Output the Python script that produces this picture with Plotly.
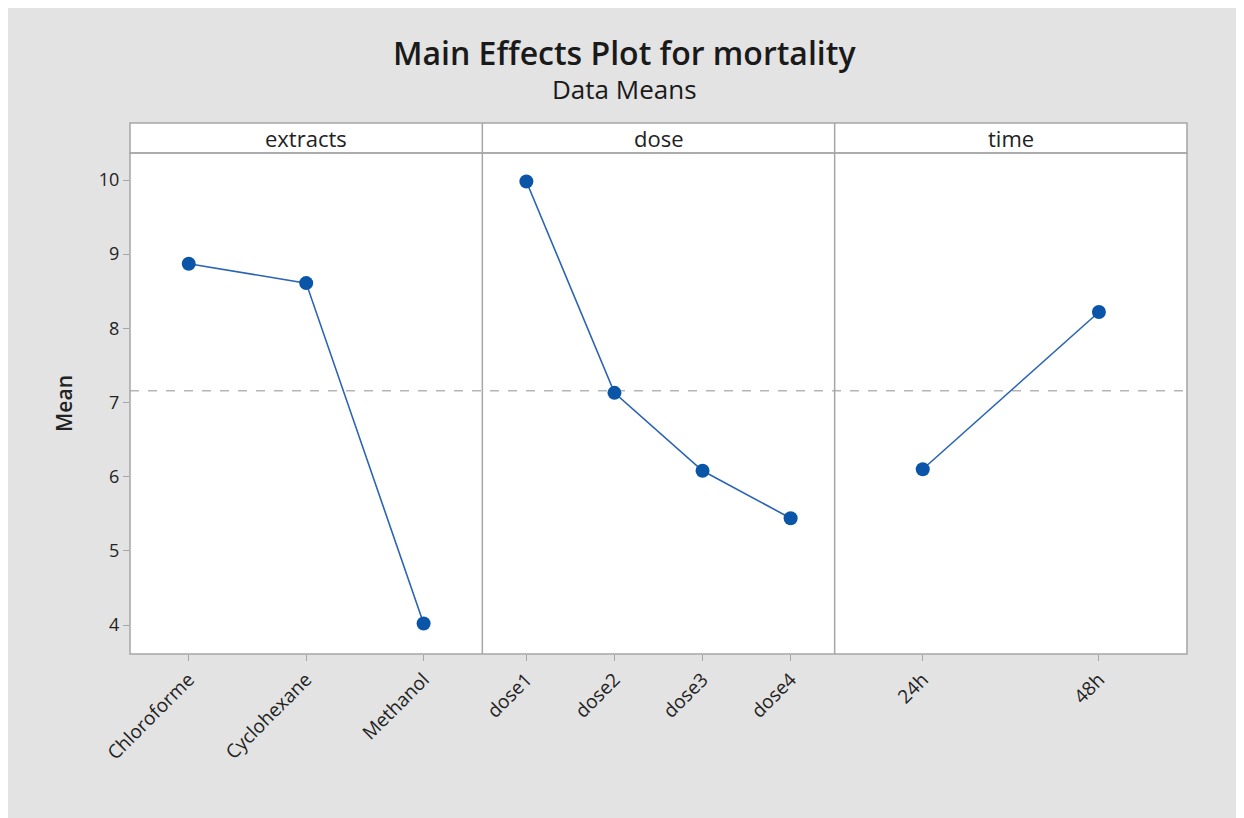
import plotly.graph_objects as go

# ---- data ----
extracts = ["Chloroforme", "Cyclohexane", "Methanol"]
extracts_mean = [8.87, 8.61, 4.02]
doses = ["dose1", "dose2", "dose3", "dose4"]
doses_mean = [9.98, 7.13, 6.08, 5.44]
times = ["24h", "48h"]
times_mean = [6.10, 8.22]
grand_mean = 7.16
panel_titles = ["extracts", "dose", "time"]
y_ticks = [4, 5, 6, 7, 8, 9, 10]

# page has an 8px body margin; figure is placed at (8, 8)
W, H = 1236, 810
L, R, T, B = 122, 57, 145, 164
pw = W - L - R
ph = H - T - B

BG = "#e3e3e3"
BORDER = "#a6a6a6"
BLUE = "#0a55a8"
LINE = "#2a64b4"
FONT = "Open Sans"

fig = go.Figure()
groups = [(extracts, extracts_mean), (doses, doses_mean), (times, times_mean)]
for i, (cats, vals) in enumerate(groups):
    xa = "x" if i == 0 else f"x{i+1}"
    fig.add_trace(go.Scatter(
        x=list(range(len(cats))), y=vals, mode="lines+markers",
        line=dict(color=LINE, width=1.6),
        marker=dict(color=BLUE, size=14),
        xaxis=xa, yaxis="y", showlegend=False, cliponaxis=False))

doms = [[0, 1/3], [1/3, 2/3], [2/3, 1]]
layout = dict(
    width=W, height=H,
    paper_bgcolor=BG, plot_bgcolor="white",
    margin=dict(l=L, r=R, t=T, b=B),
    font=dict(family=FONT, color="#222"),
    showlegend=False,
)
for i, (cats, vals) in enumerate(groups):
    key = "xaxis" if i == 0 else f"xaxis{i+1}"
    layout[key] = dict(
        domain=doms[i], range=[-0.5, len(cats) - 0.5],
        tickmode="array", tickvals=list(range(len(cats))), ticktext=cats,
        tickangle=-45, ticks="outside", ticklen=6, tickcolor=BORDER,
        tickfont=dict(size=19, family=FONT, color="#222"),
        showgrid=False, zeroline=False, showline=False,
        anchor="y", fixedrange=True,
    )
layout["yaxis"] = dict(
    range=[3.609, 10.364], tickmode="array", tickvals=y_ticks,
    ticks="outside", ticklen=6, tickcolor=BORDER,
    tickfont=dict(size=18, family=FONT, color="#222"),
    showgrid=False, zeroline=False, showline=False,
    title=dict(text="Mean", font=dict(size=21, family=FONT, color="#222", weight=600), standoff=20),
)
fig.update_layout(**layout)

hdr = 30 / ph
shapes = []
# header strip
shapes.append(dict(type="rect", xref="paper", yref="paper", x0=0, x1=1, y0=1, y1=1 + hdr,
                   fillcolor="white", line=dict(color=BORDER, width=1.5)))
# plot border
shapes.append(dict(type="rect", xref="paper", yref="paper", x0=0, x1=1, y0=0, y1=1,
                   line=dict(color=BORDER, width=1.5)))
for xd in [1/3, 2/3]:
    shapes.append(dict(type="line", xref="paper", yref="paper", x0=xd, x1=xd, y0=0, y1=1 + hdr,
                       line=dict(color=BORDER, width=1.5)))
# grand mean reference line
shapes.append(dict(type="line", xref="paper", yref="y", x0=0, x1=1, y0=grand_mean, y1=grand_mean,
                   line=dict(color="#b5b5b5", width=1.5, dash="dash"), layer="below"))
fig.update_layout(shapes=shapes)

ann = []
for i, t in enumerate(panel_titles):
    ann.append(dict(text=t, xref="paper", yref="paper", x=(doms[i][0] + doms[i][1]) / 2,
                    y=1 + hdr / 2, showarrow=False, font=dict(size=22, family=FONT, color="#222"),
                    xanchor="center", yanchor="middle"))
ann.append(dict(text="Main Effects Plot for mortality", xref="paper", yref="paper",
                x=(616 - L) / pw, y=1 + (T - 44) / ph, showarrow=False,
                font=dict(size=32, family=FONT, color="#1a1a1a", weight=600),
                xanchor="center", yanchor="middle"))
ann.append(dict(text="Data Means", xref="paper", yref="paper",
                x=(616 - L) / pw, y=1 + (T - 81) / ph, showarrow=False,
                font=dict(size=26, family=FONT, color="#1a1a1a"),
                xanchor="center", yanchor="middle"))
fig.update_layout(annotations=ann)

fig.write_html("out.html")
